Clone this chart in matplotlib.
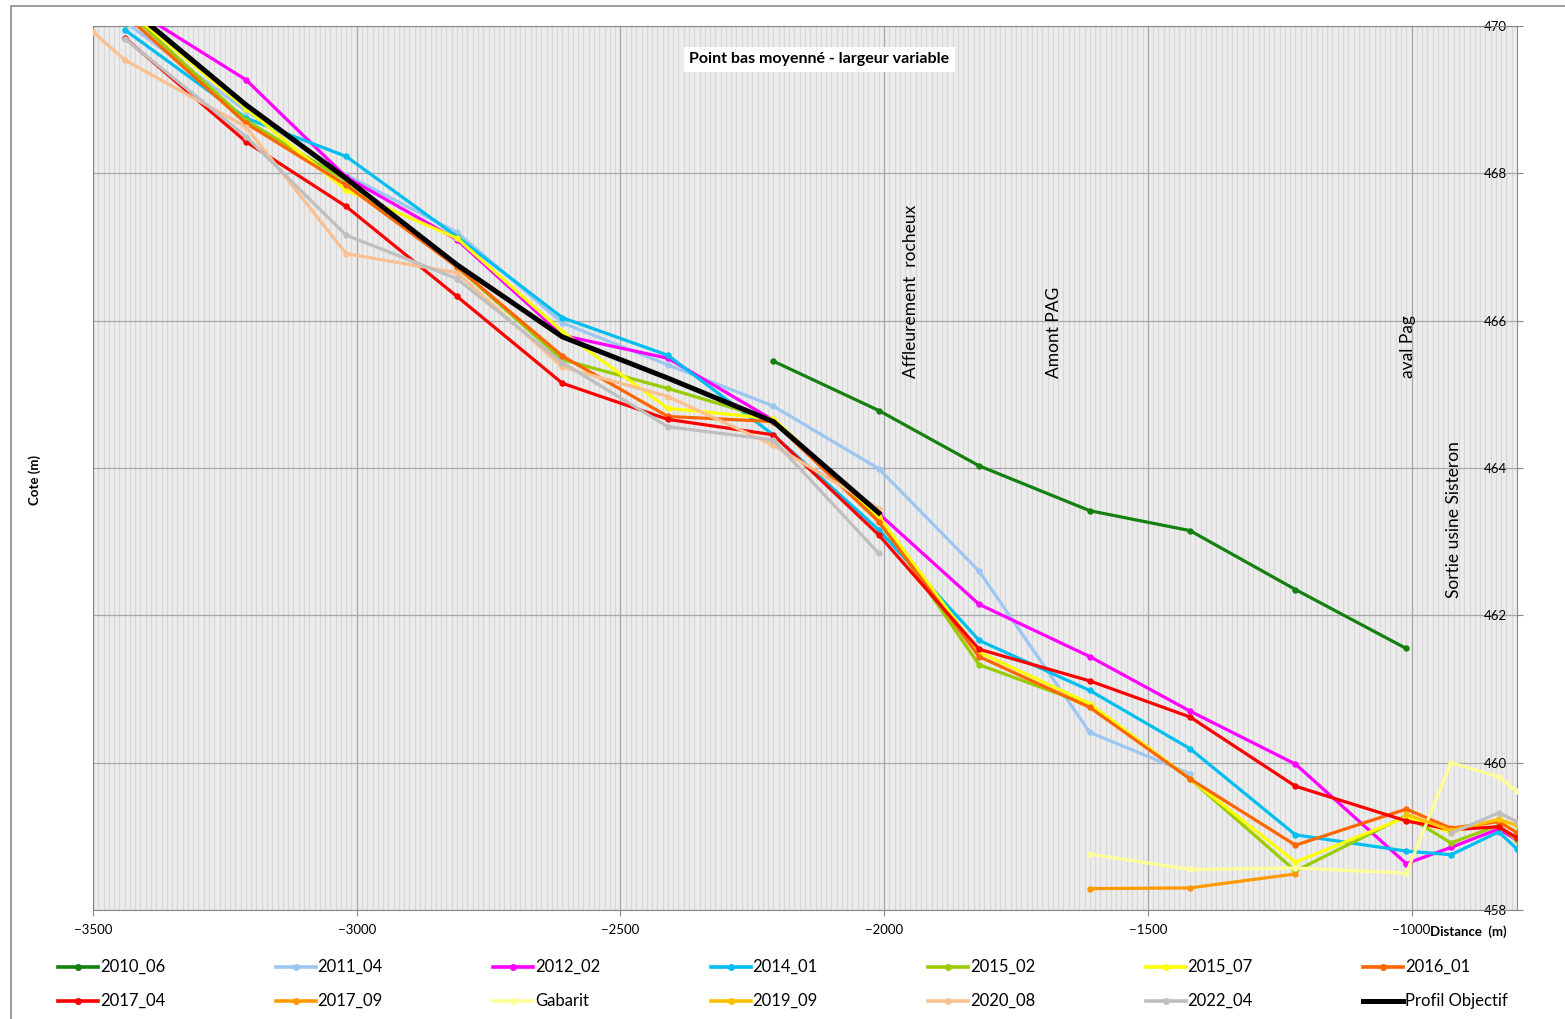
import matplotlib
matplotlib.use("Agg")
import matplotlib.pyplot as plt
import numpy as np
from matplotlib.lines import Line2D
from matplotlib.patches import Rectangle

plt.rcParams["font.family"] = ["Lato", "DejaVu Sans"]

nan = np.nan

# abscisses des profils (m)
distance = [-3500, -3440, -3210, -3020, -2810, -2610, -2410, -2210, -2010,
            -1820, -1610, -1420, -1220, -1010, -925, -835, -800]

# cotes du point bas moyenné (m) par campagne
c2010_06 = [nan, nan, nan, nan, nan, nan, nan, 465.45, 464.78,
            464.03, 463.42, 463.15, 462.35, 461.55, nan, nan, nan]
c2011_04 = [nan, 470.06, 468.85, 467.98, 467.20, 465.97, 465.40, 464.84, 463.99,
            462.60, 460.41, 459.85, nan, nan, nan, nan, nan]
c2012_02 = [nan, 470.30, 469.27, 467.95, 467.10, 465.80, 465.49, 464.65, 463.38,
            462.15, 461.44, 460.70, 459.98, 458.63, 458.85, 459.10, 458.95]
c2014_01 = [nan, 469.95, 468.75, 468.23, 467.14, 466.04, 465.53, 464.45, 463.16,
            461.66, 460.98, 460.19, 459.02, 458.80, 458.75, 459.06, 458.83]
c2015_02 = [nan, 470.23, 468.72, 467.90, 466.73, 465.47, 465.08, 464.65, 463.30,
            461.33, 460.78, 459.78, 458.53, 459.28, 458.91, 459.15, 458.95]
c2015_07 = [nan, 470.25, 468.88, 467.77, 467.12, 465.85, 464.81, 464.67, 463.34,
            461.50, 460.80, 459.78, 458.65, 459.26, 459.05, 459.22, 459.05]
c2016_01 = [nan, 470.16, 468.68, 467.84, 466.73, 465.52, 464.70, 464.63, 463.27,
            461.44, 460.75, 459.78, 458.88, 459.37, 459.11, 459.20, 459.05]
c2017_04 = [nan, 469.84, 468.43, 467.55, 466.33, 465.15, 464.66, 464.45, 463.09,
            461.54, 461.11, 460.62, 459.68, 459.21, 459.09, 459.13, 458.98]
c2017_09 = [nan, nan, nan, nan, nan, nan, nan, nan, nan,
            nan, 458.29, 458.30, 458.49, nan, nan, nan, nan]
gabarit = [nan, nan, nan, nan, nan, nan, nan, nan, nan,
           nan, 458.76, 458.55, 458.57, 458.50, 460.00, 459.81, 459.61]
c2019_09 = [nan, nan, nan, nan, nan, nan, nan, nan, nan,
            nan, nan, nan, nan, 459.30, 459.08, 459.23, 459.15]
c2020_08 = [469.92, 469.54, 468.63, 466.91, 466.65, 465.37, 464.97, 464.31, 463.45,
            nan, nan, nan, nan, nan, nan, nan, nan]
c2022_04 = [nan, 469.83, 468.50, 467.16, 466.57, 465.43, 464.56, 464.38, 462.84,
            nan, nan, nan, nan, nan, 459.04, 459.32, 459.20]
objectif = [nan, 470.30, 468.93, 467.93, 466.76, 465.78, 465.22, 464.63, 463.39,
            nan, nan, nan, nan, nan, nan, nan, nan]

series = [
    ("2010_06", c2010_06, "#13800f"),
    ("2011_04", c2011_04, "#9dc6f2"),
    ("2012_02", c2012_02, "#ff00ff"),
    ("2014_01", c2014_01, "#00bff0"),
    ("2015_02", c2015_02, "#99cc00"),
    ("2015_07", c2015_07, "#ffff00"),
    ("2016_01", c2016_01, "#ff6600"),
    ("2017_04", c2017_04, "#ff0000"),
    ("2017_09", c2017_09, "#ff9900"),
    ("Gabarit", gabarit, "#ffff99"),
    ("2019_09", c2019_09, "#ffc000"),
    ("2020_08", c2020_08, "#fac090"),
    ("2022_04", c2022_04, "#bfbfbf"),
    ("Profil Objectif", objectif, "#000000"),
]

W, H = 1565, 1019
fig = plt.figure(figsize=(W / 100, H / 100), dpi=100)
ax = fig.add_axes([93 / W, 1 - 910 / H, (1517 - 93) / W, (910 - 26) / H])

# fond tramé façon Excel
ax.set_facecolor("#ececec")
for xv in np.arange(-3500, -800, 10):
    ax.axvline(xv, color="#d8d8d8", lw=0.9, zorder=0)
for xv in range(-3500, -799, 500):
    ax.axvline(xv, color="#a8a8a8", lw=0.9, zorder=1)
for yv in range(458, 471, 2):
    ax.axhline(yv, color="#a8a8a8", lw=0.9, zorder=1)

x = np.array(distance, float)
for nom, val, col in series:
    y = np.array(val, float)
    if nom == "Profil Objectif":
        ax.plot(x, y, color=col, lw=3.6, zorder=5)
    else:
        ax.plot(x, y, color=col, lw=2.3, marker="o", ms=3.6, zorder=3)

ax.set_xlim(-3500, -800)
ax.set_ylim(458, 470)
ax.set_xticks(range(-3500, -999, 500))
ax.set_yticks(range(458, 471, 2))
ax.yaxis.tick_right()
ax.tick_params(axis="x", labelsize=9.5, length=4, color="#888888", pad=6)
ax.tick_params(axis="y", labelsize=9.5, length=4, color="#888888", pad=-28)
for sp in ax.spines.values():
    sp.set_color("#888888")

ax.text(-3500 + (1432 - 93) / 0.528, 457.70, "Distance  (m)", fontsize=9.5,
        fontweight="bold", ha="left", va="center")
fig.text(35 / W, 1 - 480 / H, "Cote (m)", rotation=90, fontsize=9.5,
         fontweight="bold", ha="center", va="center")

ax.text(-2123, 469.55, "Point bas moyenné - largeur variable", fontsize=11.5,
        fontweight="bold", ha="center", va="center", zorder=6,
        bbox=dict(facecolor="white", edgecolor="none", pad=4))

for xt, yt, txt in [(-1949, 465.22, "Affleurement  rocheux"),
                    (-1678, 465.22, "Amont PAG"),
                    (-1006, 465.22, "aval Pag"),
                    (-920, 462.24, "Sortie usine Sisteron")]:
    ax.text(xt, yt, txt, rotation=90, fontsize=12.5, ha="center", va="bottom", zorder=6)

# légende sur deux lignes de sept entrées
for i, (nom, val, col) in enumerate(series):
    r, c = divmod(i, 7)
    x0 = (58 + c * 217.5) / W
    y0 = 1 - (967 + r * 34) / H
    lw = 3.6 if nom == "Profil Objectif" else 2.6
    fig.add_artist(Line2D([x0, x0 + 40 / W], [y0, y0], color=col, lw=lw))
    if nom != "Profil Objectif":
        fig.add_artist(Line2D([x0 + 20 / W], [y0], color=col, marker="o", ms=4))
    fig.text(x0 + 42 / W, y0, nom, fontsize=12, ha="left", va="center")

fig.add_artist(Rectangle((11 / W, -0.01), 1.0, 1 - 6 / H + 0.01, fill=False,
                         edgecolor="#8c8c8c", lw=1.2, transform=fig.transFigure))

fig.savefig("out.png", dpi=100)
